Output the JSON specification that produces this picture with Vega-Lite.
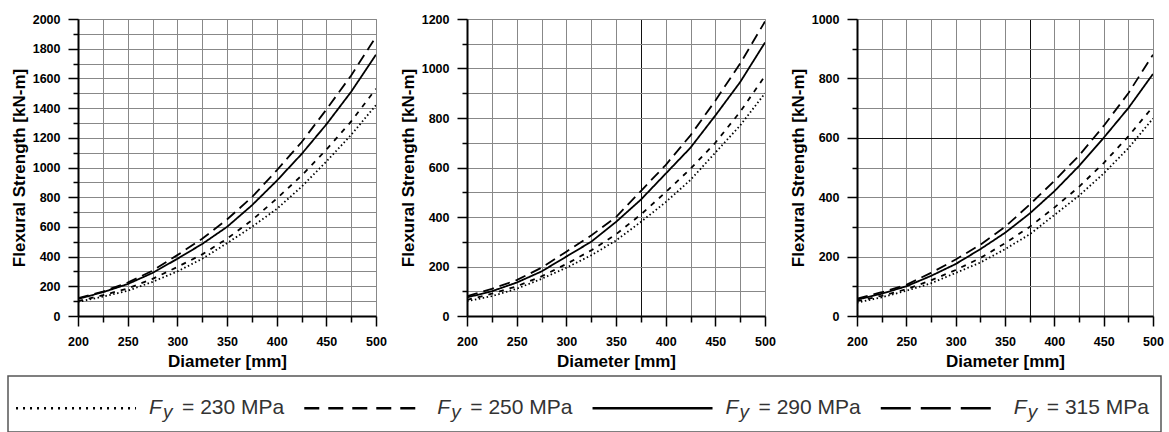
{
  "$schema": "https://vega.github.io/schema/vega-lite/v6.json",
  "padding": {"left": 7, "top": 12, "right": 0, "bottom": 0},
  "background": "white",
  "datasets": {
    "curves": [
      {"panel":1,"fy":"230","d":200,"m":95},{"panel":1,"fy":"230","d":225,"m":130},{"panel":1,"fy":"230","d":250,"m":170},{"panel":1,"fy":"230","d":275,"m":230},{"panel":1,"fy":"230","d":300,"m":300},{"panel":1,"fy":"230","d":325,"m":385},{"panel":1,"fy":"230","d":350,"m":490},{"panel":1,"fy":"230","d":375,"m":600},{"panel":1,"fy":"230","d":400,"m":720},{"panel":1,"fy":"230","d":425,"m":870},{"panel":1,"fy":"230","d":450,"m":1040},{"panel":1,"fy":"230","d":475,"m":1220},{"panel":1,"fy":"230","d":500,"m":1420},
      {"panel":1,"fy":"250","d":200,"m":100},{"panel":1,"fy":"250","d":225,"m":140},{"panel":1,"fy":"250","d":250,"m":185},{"panel":1,"fy":"250","d":275,"m":250},{"panel":1,"fy":"250","d":300,"m":330},{"panel":1,"fy":"250","d":325,"m":415},{"panel":1,"fy":"250","d":350,"m":520},{"panel":1,"fy":"250","d":375,"m":645},{"panel":1,"fy":"250","d":400,"m":790},{"panel":1,"fy":"250","d":425,"m":945},{"panel":1,"fy":"250","d":450,"m":1120},{"panel":1,"fy":"250","d":475,"m":1310},{"panel":1,"fy":"250","d":500,"m":1530},
      {"panel":1,"fy":"290","d":200,"m":115},{"panel":1,"fy":"290","d":225,"m":160},{"panel":1,"fy":"290","d":250,"m":215},{"panel":1,"fy":"290","d":275,"m":290},{"panel":1,"fy":"290","d":300,"m":385},{"panel":1,"fy":"290","d":325,"m":485},{"panel":1,"fy":"290","d":350,"m":600},{"panel":1,"fy":"290","d":375,"m":745},{"panel":1,"fy":"290","d":400,"m":910},{"panel":1,"fy":"290","d":425,"m":1090},{"panel":1,"fy":"290","d":450,"m":1290},{"panel":1,"fy":"290","d":475,"m":1510},{"panel":1,"fy":"290","d":500,"m":1760},
      {"panel":1,"fy":"315","d":200,"m":120},{"panel":1,"fy":"315","d":225,"m":165},{"panel":1,"fy":"315","d":250,"m":225},{"panel":1,"fy":"315","d":275,"m":305},{"panel":1,"fy":"315","d":300,"m":410},{"panel":1,"fy":"315","d":325,"m":520},{"panel":1,"fy":"315","d":350,"m":650},{"panel":1,"fy":"315","d":375,"m":800},{"panel":1,"fy":"315","d":400,"m":980},{"panel":1,"fy":"315","d":425,"m":1170},{"panel":1,"fy":"315","d":450,"m":1390},{"panel":1,"fy":"315","d":475,"m":1620},{"panel":1,"fy":"315","d":500,"m":1880},
      {"panel":2,"fy":"230","d":200,"m":60},{"panel":2,"fy":"230","d":225,"m":80},{"panel":2,"fy":"230","d":250,"m":110},{"panel":2,"fy":"230","d":275,"m":150},{"panel":2,"fy":"230","d":300,"m":195},{"panel":2,"fy":"230","d":325,"m":245},{"panel":2,"fy":"230","d":350,"m":305},{"panel":2,"fy":"230","d":375,"m":380},{"panel":2,"fy":"230","d":400,"m":460},{"panel":2,"fy":"230","d":425,"m":550},{"panel":2,"fy":"230","d":450,"m":660},{"panel":2,"fy":"230","d":475,"m":770},{"panel":2,"fy":"230","d":500,"m":900},
      {"panel":2,"fy":"250","d":200,"m":65},{"panel":2,"fy":"250","d":225,"m":90},{"panel":2,"fy":"250","d":250,"m":120},{"panel":2,"fy":"250","d":275,"m":160},{"panel":2,"fy":"250","d":300,"m":210},{"panel":2,"fy":"250","d":325,"m":265},{"panel":2,"fy":"250","d":350,"m":330},{"panel":2,"fy":"250","d":375,"m":410},{"panel":2,"fy":"250","d":400,"m":500},{"panel":2,"fy":"250","d":425,"m":595},{"panel":2,"fy":"250","d":450,"m":700},{"panel":2,"fy":"250","d":475,"m":825},{"panel":2,"fy":"250","d":500,"m":970},
      {"panel":2,"fy":"290","d":200,"m":75},{"panel":2,"fy":"290","d":225,"m":100},{"panel":2,"fy":"290","d":250,"m":135},{"panel":2,"fy":"290","d":275,"m":180},{"panel":2,"fy":"290","d":300,"m":240},{"panel":2,"fy":"290","d":325,"m":300},{"panel":2,"fy":"290","d":350,"m":380},{"panel":2,"fy":"290","d":375,"m":470},{"panel":2,"fy":"290","d":400,"m":575},{"panel":2,"fy":"290","d":425,"m":680},{"panel":2,"fy":"290","d":450,"m":810},{"panel":2,"fy":"290","d":475,"m":945},{"panel":2,"fy":"290","d":500,"m":1105},
      {"panel":2,"fy":"315","d":200,"m":80},{"panel":2,"fy":"315","d":225,"m":110},{"panel":2,"fy":"315","d":250,"m":145},{"panel":2,"fy":"315","d":275,"m":195},{"panel":2,"fy":"315","d":300,"m":260},{"panel":2,"fy":"315","d":325,"m":325},{"panel":2,"fy":"315","d":350,"m":400},{"panel":2,"fy":"315","d":375,"m":505},{"panel":2,"fy":"315","d":400,"m":610},{"panel":2,"fy":"315","d":425,"m":730},{"panel":2,"fy":"315","d":450,"m":870},{"panel":2,"fy":"315","d":475,"m":1020},{"panel":2,"fy":"315","d":500,"m":1190},
      {"panel":3,"fy":"230","d":200,"m":45},{"panel":3,"fy":"230","d":225,"m":63},{"panel":3,"fy":"230","d":250,"m":85},{"panel":3,"fy":"230","d":275,"m":110},{"panel":3,"fy":"230","d":300,"m":145},{"panel":3,"fy":"230","d":325,"m":180},{"panel":3,"fy":"230","d":350,"m":225},{"panel":3,"fy":"230","d":375,"m":275},{"panel":3,"fy":"230","d":400,"m":340},{"panel":3,"fy":"230","d":425,"m":405},{"panel":3,"fy":"230","d":450,"m":480},{"panel":3,"fy":"230","d":475,"m":565},{"panel":3,"fy":"230","d":500,"m":665},
      {"panel":3,"fy":"250","d":200,"m":50},{"panel":3,"fy":"250","d":225,"m":68},{"panel":3,"fy":"250","d":250,"m":90},{"panel":3,"fy":"250","d":275,"m":120},{"panel":3,"fy":"250","d":300,"m":155},{"panel":3,"fy":"250","d":325,"m":195},{"panel":3,"fy":"250","d":350,"m":245},{"panel":3,"fy":"250","d":375,"m":300},{"panel":3,"fy":"250","d":400,"m":365},{"panel":3,"fy":"250","d":425,"m":435},{"panel":3,"fy":"250","d":450,"m":515},{"panel":3,"fy":"250","d":475,"m":605},{"panel":3,"fy":"250","d":500,"m":705},
      {"panel":3,"fy":"290","d":200,"m":55},{"panel":3,"fy":"290","d":225,"m":75},{"panel":3,"fy":"290","d":250,"m":100},{"panel":3,"fy":"290","d":275,"m":135},{"panel":3,"fy":"290","d":300,"m":175},{"panel":3,"fy":"290","d":325,"m":225},{"panel":3,"fy":"290","d":350,"m":280},{"panel":3,"fy":"290","d":375,"m":345},{"panel":3,"fy":"290","d":400,"m":420},{"panel":3,"fy":"290","d":425,"m":505},{"panel":3,"fy":"290","d":450,"m":600},{"panel":3,"fy":"290","d":475,"m":700},{"panel":3,"fy":"290","d":500,"m":815},
      {"panel":3,"fy":"315","d":200,"m":58},{"panel":3,"fy":"315","d":225,"m":80},{"panel":3,"fy":"315","d":250,"m":105},{"panel":3,"fy":"315","d":275,"m":145},{"panel":3,"fy":"315","d":300,"m":190},{"panel":3,"fy":"315","d":325,"m":240},{"panel":3,"fy":"315","d":350,"m":300},{"panel":3,"fy":"315","d":375,"m":375},{"panel":3,"fy":"315","d":400,"m":455},{"panel":3,"fy":"315","d":425,"m":540},{"panel":3,"fy":"315","d":450,"m":640},{"panel":3,"fy":"315","d":475,"m":750},{"panel":3,"fy":"315","d":500,"m":880}
    ],
    "legend": [
      {"order":1,"fy":"230","rest":"= 230 MPa"},
      {"order":2,"fy":"250","rest":"= 250 MPa"},
      {"order":3,"fy":"290","rest":"= 290 MPa"},
      {"order":4,"fy":"315","rest":"= 315 MPa"}
    ]
  },
  "resolve": {"scale": {"strokeDash": "independent"}},
  "spacing": 5,
  "vconcat": [
    {
      "hconcat": [
        {
          "width": 1, "height": 297, "view": {"stroke": null},
          "data": {"values": []},
          "mark": {"type": "point", "opacity": 0}
        },
        {
          "width": 298, "height": 297,
          "data": {"name": "curves"},
          "transform": [{"filter": "datum.panel == 1"}],
          "mark": {"type": "line", "strokeWidth": 1.8, "color": "black", "clip": true},
          "encoding": {
            "x": {"field": "d", "type": "quantitative", "scale": {"domain": [200, 500], "nice": false},
              "axis": {"title": "Diameter [mm]", "values": [200,225,250,275,300,325,350,375,400,425,450,475,500],
                "labelExpr": "datum.value % 50 == 0 ? datum.label : ''",
                "tickSize": {"condition": {"test": "datum.value % 50 == 0", "value": 10}, "value": 6}}},
            "y": {"field": "m", "type": "quantitative", "scale": {"domain": [0, 2000], "nice": false},
              "axis": {"title": "Flexural Strength [kN-m]", "values": [0,100,200,300,400,500,600,700,800,900,1000,1100,1200,1300,1400,1500,1600,1700,1800,1900,2000],
                "labelExpr": "datum.value % 200 == 0 ? datum.label : ''",
                "tickSize": {"condition": {"test": "datum.value % 200 == 0", "value": 10}, "value": 5}}},
            "strokeDash": {"field": "fy", "type": "nominal", "legend": null,
              "scale": {"domain": ["230","250","290","315"], "range": [[1.5,2.5],[5,6],[1,0],[11,6]]}}
          }
        },
        {
          "width": 10.5, "height": 297, "view": {"stroke": null},
          "data": {"values": []},
          "mark": {"type": "point", "opacity": 0}
        },
        {
          "width": 298, "height": 297,
          "data": {"name": "curves"},
          "transform": [{"filter": "datum.panel == 2"}],
          "mark": {"type": "line", "strokeWidth": 1.8, "color": "black", "clip": true},
          "encoding": {
            "x": {"field": "d", "type": "quantitative", "scale": {"domain": [200, 500], "nice": false},
              "axis": {"title": "Diameter [mm]", "values": [200,225,250,275,300,325,350,375,400,425,450,475,500],
                "labelExpr": "datum.value % 50 == 0 ? datum.label : ''",
                "gridColor": {"condition": {"test": "datum.value == 375", "value": "#111"}, "value": "#888"},
                "tickSize": {"condition": {"test": "datum.value % 50 == 0", "value": 10}, "value": 6}}},
            "y": {"field": "m", "type": "quantitative", "scale": {"domain": [0, 1200], "nice": false},
              "axis": {"title": "Flexural Strength [kN-m]", "values": [0,100,200,300,400,500,600,700,800,900,1000,1100,1200],
                "labelExpr": "datum.value % 200 == 0 ? datum.label : ''",
                "tickSize": {"condition": {"test": "datum.value % 200 == 0", "value": 10}, "value": 5}}},
            "strokeDash": {"field": "fy", "type": "nominal", "legend": null,
              "scale": {"domain": ["230","250","290","315"], "range": [[1.5,2.5],[5,6],[1,0],[11,6]]}}
          }
        },
        {
          "width": 11.5, "height": 297, "view": {"stroke": null},
          "data": {"values": []},
          "mark": {"type": "point", "opacity": 0}
        },
        {
          "width": 296, "height": 297,
          "data": {"name": "curves"},
          "transform": [{"filter": "datum.panel == 3"}],
          "mark": {"type": "line", "strokeWidth": 1.8, "color": "black", "clip": true},
          "encoding": {
            "x": {"field": "d", "type": "quantitative", "scale": {"domain": [200, 500], "nice": false},
              "axis": {"title": "Diameter [mm]", "values": [200,225,250,275,300,325,350,375,400,425,450,475,500],
                "labelExpr": "datum.value % 50 == 0 ? datum.label : ''",
                "gridColor": {"condition": {"test": "datum.value == 375", "value": "#111"}, "value": "#888"},
                "tickSize": {"condition": {"test": "datum.value % 50 == 0", "value": 10}, "value": 6}}},
            "y": {"field": "m", "type": "quantitative", "scale": {"domain": [0, 1000], "nice": false},
              "axis": {"title": "Flexural Strength [kN-m]", "values": [0,100,200,300,400,500,600,700,800,900,1000],
                "labelExpr": "datum.value % 200 == 0 ? datum.label : ''",
                "gridColor": {"condition": {"test": "datum.value == 600", "value": "#111"}, "value": "#888"},
                "tickSize": {"condition": {"test": "datum.value % 200 == 0", "value": 10}, "value": 5}}},
            "strokeDash": {"field": "fy", "type": "nominal", "legend": null,
              "scale": {"domain": ["230","250","290","315"], "range": [[1.5,2.5],[5,6],[1,0],[11,6]]}}
          }
        }
      ],
      "spacing": 0,
      "resolve": {"scale": {"strokeDash": "independent"}}
    },
    {
      "width": 1153, "height": 56,
      "view": {"stroke": "#555", "strokeWidth": 1.5},
      "data": {"name": "legend"},
      "encoding": {
        "x": {"field": "order", "type": "quantitative", "scale": {"domain": [0.764, 4.764], "nice": false, "zero": false}, "axis": null},
        "y": {"datum": 0, "type": "quantitative", "scale": {"domain": [-1, 1.35], "nice": false}, "axis": null}
      },
      "layer": [
        {
          "mark": {"type": "point", "shape": "M-1,0L1,0", "size": 14400, "filled": false, "strokeWidth": 2.5, "color": "black", "opacity": 1},
          "encoding": {
            "strokeDash": {"field": "fy", "type": "nominal", "legend": null,
              "scale": {"domain": ["230","250","290","315"], "range": [[2,5],[15,9],[1,0],[30,10]]}}
          }
        },
        {
          "mark": {"type": "text", "text": "F", "font": "Liberation Sans", "fontStyle": "italic", "fontSize": 21, "align": "left", "baseline": "middle", "dx": 73, "color": "#333"}
        },
        {
          "mark": {"type": "text", "text": "y", "font": "Liberation Sans", "fontStyle": "italic", "fontSize": 19, "align": "left", "baseline": "middle", "dx": 87, "dy": 4, "color": "#333"}
        },
        {
          "mark": {"type": "text", "font": "Liberation Sans", "fontSize": 21, "align": "left", "baseline": "middle", "dx": 106, "color": "#333"},
          "encoding": {"text": {"field": "rest", "type": "nominal"}}
        }
      ]
    }
  ],
  "config": {
    "view": {"stroke": "#888", "strokeWidth": 1},
    "axis": {
      "labelFont": "Liberation Sans", "labelFontWeight": "bold", "labelFontSize": 12.5, "labelColor": "black",
      "titleFont": "Liberation Sans", "titleFontWeight": "bold", "titleFontSize": 17, "titleColor": "black",
      "domainColor": "black", "domainWidth": 2, "tickColor": "black", "tickWidth": 1.5,
      "grid": true, "gridColor": "#888", "gridWidth": 1, "gridOpacity": 1, "format": "d",
      "labelOverlap": false, "labelFlush": false, "labelBound": false
    },
    "axisX": {"labelPadding": 9, "titlePadding": 6},
    "axisY": {"labelPadding": 8, "titlePadding": 4}
  }
}
